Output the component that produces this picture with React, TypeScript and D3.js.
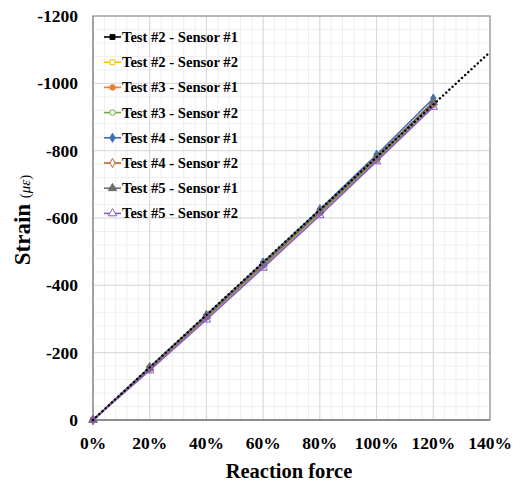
import * as d3 from "d3";

// reaction force (%) and strain (με) readings
const forces = [0, 20, 40, 60, 80, 100, 120];

const seriesNames = [
  "Test #2 - Sensor #1",
  "Test #2 - Sensor #2",
  "Test #3 - Sensor #1",
  "Test #3 - Sensor #2",
  "Test #4 - Sensor #1",
  "Test #4 - Sensor #2",
  "Test #5 - Sensor #1",
  "Test #5 - Sensor #2",
];

const t2s1 = [0, -155, -308, -463, -620, -778, -940];
const t2s2 = [0, -153, -306, -460, -617, -775, -938];
const t3s1 = [0, -156, -310, -465, -622, -782, -945];
const t3s2 = [0, -152, -305, -458, -615, -772, -936];
const t4s1 = [0, -157, -312, -468, -626, -788, -955];
const t4s2 = [0, -154, -307, -462, -619, -778, -942];
const t5s1 = [0, -155, -309, -464, -621, -780, -944];
const t5s2 = [0, -147, -298, -452, -608, -768, -930];

// dotted trend line
const trendX = [0, 140];
const trendY = [0, -1093];

const xTicks = [0, 20, 40, 60, 80, 100, 120, 140];
const yTicks = [0, -200, -400, -600, -800, -1000, -1200];

const colors = ["#000000", "#FFC000", "#ED7D31", "#70AD47", "#3A6FB5", "#C0632B", "#6E6E6E", "#8E5BC2"];
const symbols = [
  d3.symbolSquare, d3.symbolSquare, d3.symbolCircle, d3.symbolCircle,
  d3.symbolDiamond, d3.symbolDiamond, d3.symbolTriangle, d3.symbolTriangle,
];
const filled = [true, false, true, false, true, false, true, false];

const W = 522;
const H = 481;
const left = 93, right = 490, top = 16, bottom = 420;
const font = "Liberation Serif";

export default function App() {
  const values = [t2s1, t2s2, t3s1, t3s2, t4s1, t4s2, t5s1, t5s2];

  const x = d3.scaleLinear().domain([0, 140]).range([left, right]);
  const y = d3.scaleLinear().domain([0, -1200]).range([bottom, top]);

  const line = d3
    .line<[number, number]>()
    .x((d) => x(d[0]))
    .y((d) => y(d[1]));

  const minorX = d3.range(0, 140.01, 4);
  const minorY = d3.range(0, -1200.01, -40);
  const txt = { fontFamily: font };

  return (
    <svg
      width={W}
      height={H}
      style={{ position: "absolute", left: 0, top: 0, background: "#fff", fontFamily: font }}
    >
      {/* minor grid */}
      {minorX.map((v) => (
        <line key={"mx" + v} x1={x(v)} x2={x(v)} y1={top} y2={bottom} stroke="#efefef" />
      ))}
      {minorY.map((v) => (
        <line key={"my" + v} x1={left} x2={right} y1={y(v)} y2={y(v)} stroke="#efefef" />
      ))}
      {/* major grid */}
      {xTicks.map((v) => (
        <line key={"gx" + v} x1={x(v)} x2={x(v)} y1={top} y2={bottom} stroke="#d9d9d9" />
      ))}
      {yTicks.map((v) => (
        <line key={"gy" + v} x1={left} x2={right} y1={y(v)} y2={y(v)} stroke="#d9d9d9" />
      ))}
      <rect x={left} y={top} width={right - left} height={bottom - top} fill="none" stroke="#a6a6a6" strokeWidth={1.5} />
      <line x1={left} x2={left} y1={top} y2={bottom} stroke="#9a9a9a" strokeWidth={1.5} />
      <line x1={left} x2={right} y1={bottom} y2={bottom} stroke="#7f7f7f" strokeWidth={1.5} />

      {/* series */}
      {values.map((vals, i) => {
        const pts = forces.map((f, j) => [f, vals[j]] as [number, number]);
        const sym = d3.symbol().type(symbols[i]).size(symbols[i] === d3.symbolTriangle ? 30 : 24)();
        return (
          <g key={"s" + i}>
            <path d={line(pts) || ""} fill="none" stroke={colors[i]} strokeWidth={1.6} />
            {pts.map((p, j) => (
              <path
                key={j}
                d={sym || ""}
                transform={`translate(${x(p[0])},${y(p[1])})`}
                fill={filled[i] ? colors[i] : "none"}
                stroke={colors[i]}
                strokeWidth={1}
              />
            ))}
          </g>
        );
      })}

      {/* trend line */}
      <path
        d={line(trendX.map((v, i) => [v, trendY[i]] as [number, number])) || ""}
        fill="none"
        stroke="#000"
        strokeWidth={2.4}
        strokeDasharray="0.1,4.2"
        strokeLinecap="round"
      />

      {/* y tick labels */}
      {yTicks.map((v) => (
        <text key={"yl" + v} style={txt} x={78} y={y(v) + 6} textAnchor="end" fontSize={17.5} fontWeight="bold">
          {v}
        </text>
      ))}
      {/* x tick labels */}
      {xTicks.map((v) => (
        <text key={"xl" + v} style={txt} x={x(v)} y={449} textAnchor="middle" fontSize={17.5} fontWeight="bold">
          {v + "%"}
        </text>
      ))}

      <text style={txt} x={289} y={478} textAnchor="middle" fontSize={20.5} fontWeight="bold">
        Reaction force
      </text>
      <text style={txt} transform="translate(30,220) rotate(-90)" textAnchor="middle">
        <tspan fontSize={23} fontWeight="bold">Strain </tspan>
        <tspan fontSize={15}>(</tspan>
        <tspan fontSize={15} fontStyle="italic">με</tspan>
        <tspan fontSize={15}>)</tspan>
      </text>

      {/* legend */}
      {seriesNames.map((name, i) => {
        const cy = 37 + i * 25.2;
        const sym = d3.symbol().type(symbols[i]).size(symbols[i] === d3.symbolTriangle ? 30 : 24)();
        return (
          <g key={"lg" + i}>
            <line x1={104} x2={121} y1={cy} y2={cy} stroke={colors[i]} strokeWidth={1.6} />
            <path
              d={sym || ""}
              transform={`translate(112.5,${cy})`}
              fill={filled[i] ? colors[i] : "#fff"}
              stroke={colors[i]}
              strokeWidth={1}
            />
            <text style={txt} x={122} y={cy + 5} fontSize={14.6} fontWeight="bold">
              {name}
            </text>
          </g>
        );
      })}
    </svg>
  );
}
